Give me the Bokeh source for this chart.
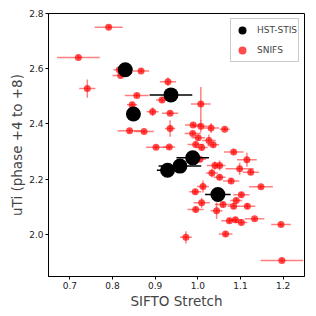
import numpy as np
from bokeh.plotting import figure
from bokeh.models import Range1d, FixedTicker, PrintfTickFormatter, Legend, LegendItem
from bokeh.embed import file_html
from bokeh.resources import INLINE

# HST-STIS
hst_x = [0.830, 0.849, 0.937, 0.988, 0.958, 0.929, 1.047]
hst_y = [2.596, 2.436, 2.505, 2.277, 2.247, 2.232, 2.144]
hst_xerr = [0.010, 0.005, 0.050, 0.038, 0.050, 0.025, 0.030]

# SNIFS
snifs_x = [0.791, 0.720, 0.816, 0.819, 0.867, 0.741, 0.930, 0.857, 0.916, 0.846,
           0.894, 0.935, 0.840, 0.874, 0.935, 0.902, 0.933, 1.007, 0.989, 1.007,
           1.031, 1.063, 0.988, 1.001, 1.026, 0.995, 1.036, 1.009, 1.084, 1.115,
           1.005, 1.040, 1.051, 1.098, 1.124, 1.033, 1.051, 1.078, 1.148, 1.012,
           0.994, 1.102, 1.009, 1.059, 1.090, 1.116, 1.084, 0.995, 1.044, 1.133,
           1.074, 1.088, 1.102, 1.195, 1.065, 0.972, 1.197]
snifs_y = [2.750, 2.641, 2.596, 2.575, 2.592, 2.528, 2.553, 2.503, 2.487, 2.469,
           2.444, 2.439, 2.375, 2.372, 2.383, 2.315, 2.316, 2.472, 2.396, 2.391,
           2.385, 2.381, 2.365, 2.350, 2.340, 2.325, 2.324, 2.314, 2.298, 2.270,
           2.272, 2.249, 2.249, 2.237, 2.225, 2.222, 2.207, 2.193, 2.172, 2.173,
           2.154, 2.143, 2.114, 2.108, 2.122, 2.102, 2.102, 2.090, 2.085, 2.056,
           2.049, 2.053, 2.043, 2.035, 2.001, 1.989, 1.905]
snifs_xerr = [0.033, 0.050, 0.014, 0.019, 0.019, 0.019, 0.019, 0.028, 0.014, 0.012,
              0.014, 0.019, 0.028, 0.023, 0.012, 0.023, 0.014, 0.023, 0.019, 0.016,
              0.019, 0.012, 0.019, 0.016, 0.016, 0.019, 0.014, 0.014, 0.023, 0.023,
              0.014, 0.019, 0.014, 0.033, 0.019, 0.014, 0.014, 0.019, 0.028, 0.014,
              0.014, 0.019, 0.019, 0.019, 0.014, 0.019, 0.014, 0.019, 0.014, 0.023,
              0.019, 0.014, 0.014, 0.023, 0.016, 0.014, 0.050]
snifs_yerr = [0.007, 0.007, 0.007, 0.007, 0.007, 0.033, 0.015, 0.007, 0.010, 0.010,
              0.015, 0.007, 0.007, 0.007, 0.030, 0.007, 0.007, 0.062, 0.007, 0.022,
              0.018, 0.007, 0.007, 0.010, 0.022, 0.010, 0.010, 0.010, 0.010, 0.025,
              0.010, 0.015, 0.018, 0.022, 0.010, 0.015, 0.010, 0.010, 0.007, 0.022,
              0.010, 0.010, 0.018, 0.010, 0.010, 0.010, 0.010, 0.010, 0.030, 0.007,
              0.010, 0.010, 0.010, 0.007, 0.010, 0.022, 0.007]

x_ticks = [0.7, 0.8, 0.9, 1.0, 1.1, 1.2]
y_ticks = [2.0, 2.2, 2.4, 2.6, 2.8]

FONT = "DejaVu Sans"

p = figure(width=308, height=311, output_backend="svg", toolbar_location=None,
           x_range=Range1d(0.65, 1.25), y_range=Range1d(1.847, 2.8),
           min_border_left=48, min_border_right=4, min_border_top=13, min_border_bottom=35)
p.xgrid.visible = False
p.ygrid.visible = False
p.outline_line_color = "black"
p.outline_line_width = 1
p.background_fill_color = "white"
p.border_fill_color = "white"

sx = np.array(snifs_x); sy = np.array(snifs_y)
sxe = np.array(snifs_xerr); sye = np.array(snifs_yerr)
p.segment(x0=sx - sxe, x1=sx + sxe, y0=sy, y1=sy, line_color="red", line_alpha=0.5, line_width=1.5)
p.segment(x0=sx, x1=sx, y0=sy - sye, y1=sy + sye, line_color="red", line_alpha=0.5, line_width=1.5)
r_snifs = p.scatter(sx, sy, size=7, fill_color="red", fill_alpha=0.7, line_color=None)

hx = np.array(hst_x); hy = np.array(hst_y); hxe = np.array(hst_xerr)
p.segment(x0=hx - hxe, x1=hx + hxe, y0=hy, y1=hy, line_color="black", line_width=1.5)
r_hst = p.scatter(hx, hy, size=15, fill_color="black", line_color=None)

legend = Legend(items=[LegendItem(label="HST-STIS", renderers=[r_hst]),
                       LegendItem(label="SNIFS", renderers=[r_snifs])],
                location="top_right", label_text_font=FONT, label_text_font_size="9px",
                border_line_color="#cccccc", border_line_alpha=1.0, background_fill_alpha=0.9,
                glyph_width=20, glyph_height=20, label_height=12, spacing=-9,
                padding=1, margin=5, label_standoff=5)
p.add_layout(legend)

p.xaxis.ticker = FixedTicker(ticks=x_ticks)
p.yaxis.ticker = FixedTicker(ticks=y_ticks)
p.xaxis.formatter = PrintfTickFormatter(format="%.1f")
p.yaxis.formatter = PrintfTickFormatter(format="%.1f")
for ax in (p.xaxis[0], p.yaxis[0]):
    ax.major_label_text_font = FONT
    ax.major_label_text_font_size = "9px"
    ax.major_label_text_color = "#222222"
    ax.axis_label_text_font = FONT
    ax.axis_label_text_font_size = "13.5px"
    ax.axis_label_text_font_style = "normal"
    ax.minor_tick_line_color = None
    ax.major_tick_out = 3
    ax.major_tick_in = 0
    ax.axis_line_color = "black"
    ax.major_label_standoff = 2
    ax.axis_label_standoff = 1
p.xaxis.axis_label = "SIFTO Stretch"
p.yaxis.axis_label = "uTi (phase +4 to +8)"

open("out.html", "w").write(file_html(p, INLINE))
